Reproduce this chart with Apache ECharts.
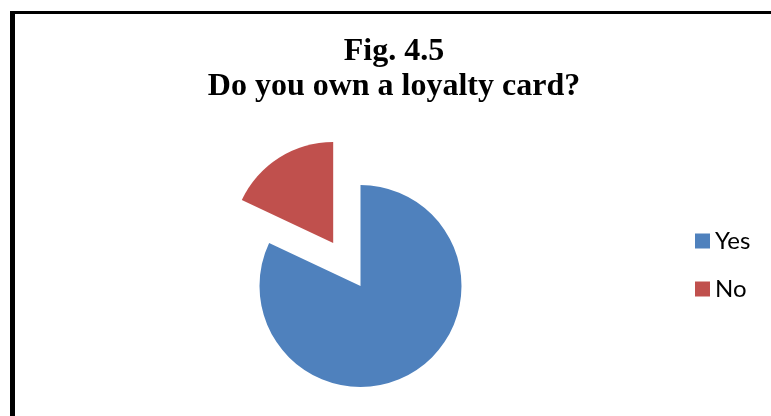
<!DOCTYPE html>
<html>
<head>
<meta charset="utf-8">
<script src="https://cdn.jsdelivr.net/npm/echarts@6/dist/echarts.min.js"></script>
<style>
  html, body { margin: 0; padding: 0; background: #ffffff; }
  #chart { width: 771px; height: 416px; }
</style>
</head>
<body>
<div id="chart"></div>
<script>
// Survey answers and their shares (%)
var categories = ['Yes', 'No'];
var shares = [82, 18];
var sliceColors = ['#4F81BD', '#C0504D'];
var titleLines = ['Fig. 4.5', 'Do you own a loyalty card?'];

var chart = echarts.init(document.getElementById('chart'), null, { renderer: 'canvas' });

var pieData = categories.map(function (name, i) {
  return {
    name: name,
    value: shares[i],
    selected: name === 'No',
    itemStyle: { color: sliceColors[i] }
  };
});

chart.setOption({
  backgroundColor: '#ffffff',
  animation: false,
  title: {
    text: titleLines.join('\n'),
    left: 394,
    top: 34,
    padding: 0,
    textAlign: 'center',
    textStyle: {
      fontFamily: '"Liberation Serif", "Times New Roman", serif',
      fontWeight: 'bold',
      fontSize: 32,
      lineHeight: 35,
      color: '#000000'
    }
  },
  legend: {
    orient: 'vertical',
    left: 695,
    top: 229,
    padding: 0,
    itemWidth: 15,
    itemHeight: 15,
    itemGap: 24,
    itemTextGap: 8,
    icon: 'rect',
    selectedMode: false,
    data: categories,
    textStyle: {
      fontFamily: 'Lato, "Open Sans", sans-serif',
      fontSize: 24,
      lineHeight: 24,
      color: '#000000'
    }
  },
  graphic: [
    { type: 'rect', shape: { x: 10, y: 11, width: 761, height: 3 }, style: { fill: '#000000' }, silent: true },
    { type: 'rect', shape: { x: 10, y: 11, width: 5, height: 405 }, style: { fill: '#000000' }, silent: true }
  ],
  series: [{
    type: 'pie',
    center: [360.5, 286],
    radius: [0, 101],
    startAngle: 90,
    clockwise: true,
    selectedMode: 'single',
    selectedOffset: 51,
    label: { show: false },
    labelLine: { show: false },
    emphasis: { disabled: true },
    itemStyle: { borderWidth: 0 },
    data: pieData
  }]
});
</script>
</body>
</html>
